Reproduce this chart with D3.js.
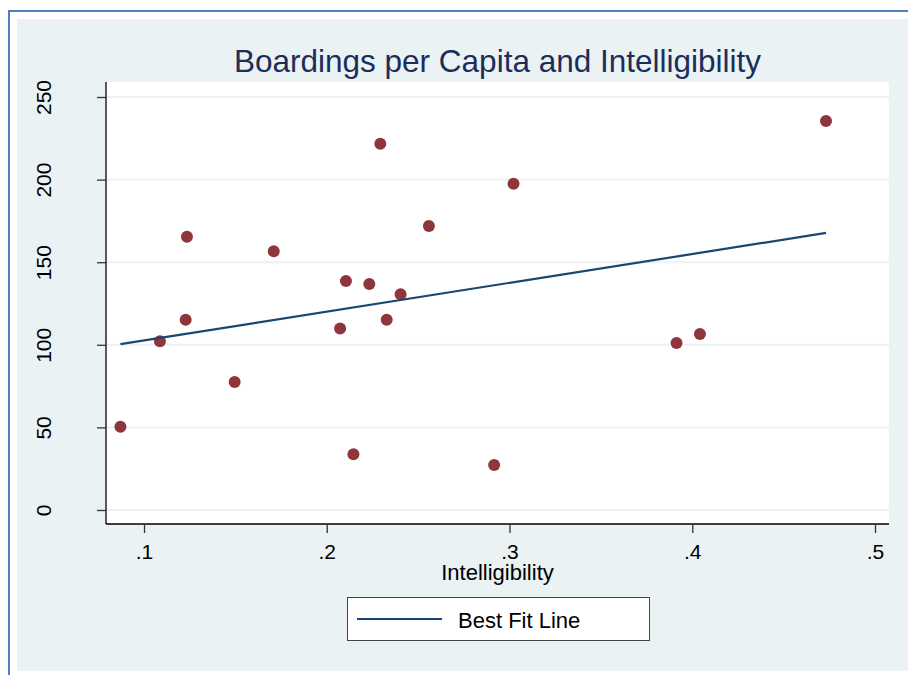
<!DOCTYPE html>
<html>
<head>
<meta charset="utf-8">
<script src="https://cdn.jsdelivr.net/npm/d3@7"></script>
<style>
  body { margin: 0; background: #fff; }
  text { font-family: 'Liberation Sans', Arial, sans-serif; }
</style>
</head>
<body>
<div id="chart"></div>
<script>
// intelligibility (x) and boardings per capita (y)
const intelligibility = [0.0871, 0.1087, 0.1228, 0.1235, 0.1496, 0.1710, 0.2073, 0.2105, 0.2146, 0.2233,
  0.2293, 0.2328, 0.2404, 0.2559, 0.2916, 0.3022, 0.3914, 0.4042, 0.4732];
const boardings = [50.4, 102.1, 115.2, 165.4, 77.5, 156.6, 109.8, 138.6, 33.7, 136.8,
  221.7, 115.2, 130.6, 171.9, 27.2, 197.5, 101.1, 106.5, 235.5];

// end points of the fitted line
const fitX = [0.0871, 0.4732];
const fitY = [100.4, 167.7];

const xTicks = [0.1, 0.2, 0.3, 0.4, 0.5];
const yTicks = [0, 50, 100, 150, 200, 250];

const chartTitle = 'Boardings per Capita and Intelligibility';
const xTitle = 'Intelligibility';
const legendLabel = 'Best Fit Line';

class BoardingsScatter {
	constructor(_config) {
		this.config = {
			parentElement: _config.parentElement,
			containerWidth: _config.containerWidth || 908,
			containerHeight: _config.containerHeight || 675,
			plot: { left: 106, right: 889, top: 82, bottom: 524 }
		};
		this.initVis();
	}

	initVis() {
		let vis = this;
		const p = vis.config.plot;

		vis.svg = d3.select(vis.config.parentElement).append('svg')
			.attr('width', vis.config.containerWidth)
			.attr('height', vis.config.containerHeight);

		// graph region + outer frame
		vis.svg.append('rect')
			.attr('x', 17).attr('y', 19)
			.attr('width', vis.config.containerWidth - 17)
			.attr('height', 652)
			.attr('fill', '#eaf2f3');
		vis.svg.append('path')
			.attr('d', `M9,675V11H${vis.config.containerWidth}`)
			.attr('fill', 'none')
			.attr('stroke', '#4f7fbf')
			.attr('stroke-width', 2);

		// plot region
		vis.svg.append('rect')
			.attr('x', p.left).attr('y', p.top)
			.attr('width', p.right - p.left)
			.attr('height', p.bottom - p.top)
			.attr('fill', '#fff');

		vis.xScale = d3.scaleLinear().domain([0.1, 0.5]).range([144, 875]);
		vis.yScale = d3.scaleLinear().domain([0, 250]).range([510, 97]);

		vis.svg.append('text')
			.attr('x', (p.left + p.right) / 2)
			.attr('y', 72)
			.attr('text-anchor', 'middle')
			.style('font-size', '31.5px')
			.attr('fill', '#1c2d5a')
			.text(chartTitle);
	}

	renderVis() {
		let vis = this;
		const p = vis.config.plot;

		// grid lines
		vis.svg.append('g').selectAll('line')
			.data(yTicks)
			.join('line')
			.attr('x1', p.left).attr('x2', p.right)
			.attr('y1', d => vis.yScale(d)).attr('y2', d => vis.yScale(d))
			.attr('stroke', '#eaf2f3')
			.attr('stroke-width', 2);

		// y axis
		const yAxis = vis.svg.append('g')
			.attr('transform', `translate(${p.left},0)`)
			.call(d3.axisLeft(vis.yScale).tickValues(yTicks).tickSize(9).tickSizeOuter(0));
		yAxis.select('.domain').attr('d', `M0,${p.top}V${p.bottom}`).attr('stroke', '#000').attr('stroke-width', 1.3);
		yAxis.selectAll('.tick line').attr('stroke', '#333').attr('stroke-width', 1.3);
		yAxis.selectAll('.tick text')
			.attr('x', null).attr('dy', null)
			.attr('transform', 'translate(-55,0) rotate(-90)')
			.attr('text-anchor', 'middle')
			.attr('fill', '#000')
			.style('font-size', '21px')
			.style('font-family', "'Liberation Sans', Arial, sans-serif");

		// x axis
		const xAxis = vis.svg.append('g')
			.attr('transform', `translate(0,${p.bottom})`)
			.call(d3.axisBottom(vis.xScale).tickValues(xTicks).tickSize(9).tickSizeOuter(0)
				.tickFormat(d => d3.format('.1f')(d).replace(/^0/, '')));
		xAxis.select('.domain').attr('d', `M${p.left},0H${p.right}`).attr('stroke', '#000').attr('stroke-width', 1.3);
		xAxis.selectAll('.tick line').attr('stroke', '#333').attr('stroke-width', 1.3);
		xAxis.selectAll('.tick text')
			.attr('y', 35).attr('dy', null)
			.attr('fill', '#000')
			.style('font-size', '21px')
			.style('font-family', "'Liberation Sans', Arial, sans-serif");

		vis.svg.append('text')
			.attr('x', (p.left + p.right) / 2)
			.attr('y', 580)
			.attr('text-anchor', 'middle')
			.style('font-size', '22px')
			.attr('fill', '#000')
			.text(xTitle);

		// points
		vis.svg.append('g').selectAll('circle')
			.data(intelligibility.map((d, i) => [d, boardings[i]]))
			.join('circle')
			.attr('cx', d => vis.xScale(d[0]))
			.attr('cy', d => vis.yScale(d[1]))
			.attr('r', 6)
			.attr('fill', '#90353b');

		// fit line
		vis.svg.append('path')
			.datum(fitX.map((d, i) => [d, fitY[i]]))
			.attr('d', d3.line().x(d => vis.xScale(d[0])).y(d => vis.yScale(d[1])))
			.attr('fill', 'none')
			.attr('stroke', '#1a476f')
			.attr('stroke-width', 2.2);

		// legend
		const legend = vis.svg.append('g');
		legend.append('rect')
			.attr('x', 347.5).attr('y', 597.5)
			.attr('width', 302).attr('height', 43)
			.attr('fill', '#fff')
			.attr('stroke', '#444')
			.attr('stroke-width', 1);
		legend.append('line')
			.attr('x1', 357).attr('x2', 442)
			.attr('y1', 619).attr('y2', 619)
			.attr('stroke', '#1a476f')
			.attr('stroke-width', 2.2);
		legend.append('text')
			.attr('x', 458).attr('y', 628)
			.style('font-size', '22px')
			.attr('fill', '#000')
			.text(legendLabel);
	}
}

const chart = new BoardingsScatter({ parentElement: '#chart' });
chart.renderVis();
</script>
</body>
</html>
